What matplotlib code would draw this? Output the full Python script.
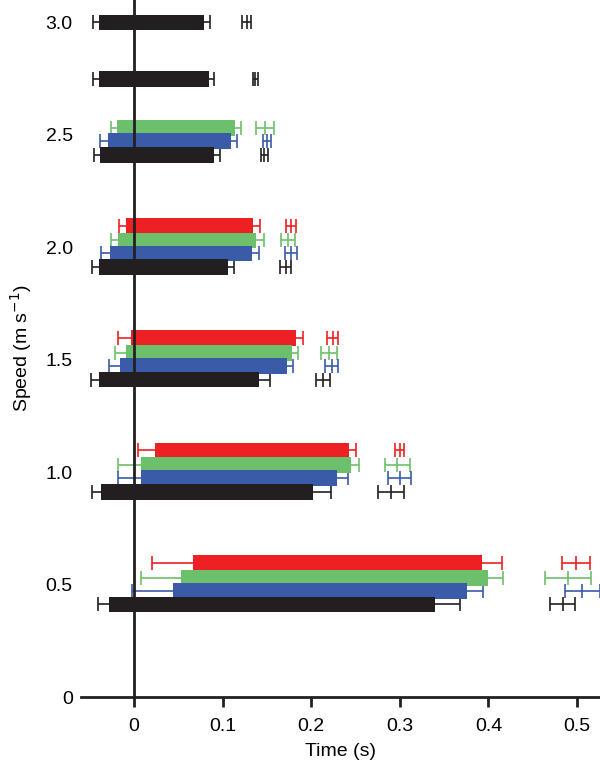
import matplotlib.pyplot as plt

plt.rcParams['font.family'] = ['Liberation Sans', 'DejaVu Sans']

speeds = [0.5, 1.0, 1.5, 2.0, 2.5, 2.75, 3.0]
series = ['red', 'green', 'blue', 'black']
colors = {'red': '#ED2024', 'green': '#6DC06B', 'blue': '#3A5BA8', 'black': '#231F20'}
offsets = {'red': 0.097, 'green': 0.031, 'blue': -0.027, 'black': -0.088}

# per series: speed -> (start, start_err, end, end_err, period, period_err)
data = {
    'red': {
        0.5: (0.066, 0.046, 0.393, 0.022, 0.499, 0.016),
        1.0: (0.023, 0.019, 0.243, 0.008, 0.300, 0.005),
        1.5: (-0.003, 0.015, 0.183, 0.008, 0.224, 0.006),
        2.0: (-0.009, 0.008, 0.134, 0.008, 0.177, 0.006),
    },
    'green': {
        0.5: (0.053, 0.045, 0.400, 0.016, 0.490, 0.026),
        1.0: (0.008, 0.026, 0.245, 0.009, 0.297, 0.014),
        1.5: (-0.009, 0.013, 0.178, 0.007, 0.220, 0.009),
        2.0: (-0.018, 0.008, 0.138, 0.009, 0.174, 0.008),
        2.5: (-0.019, 0.007, 0.114, 0.007, 0.148, 0.010),
    },
    'blue': {
        0.5: (0.044, 0.046, 0.376, 0.018, 0.506, 0.020),
        1.0: (0.008, 0.026, 0.229, 0.012, 0.300, 0.013),
        1.5: (-0.016, 0.012, 0.173, 0.006, 0.223, 0.007),
        2.0: (-0.027, 0.010, 0.133, 0.008, 0.177, 0.007),
        2.5: (-0.030, 0.008, 0.109, 0.007, 0.150, 0.005),
    },
    'black': {
        0.5: (-0.028, 0.013, 0.340, 0.028, 0.484, 0.014),
        1.0: (-0.037, 0.011, 0.202, 0.020, 0.290, 0.015),
        1.5: (-0.040, 0.009, 0.141, 0.012, 0.213, 0.008),
        2.0: (-0.040, 0.008, 0.106, 0.007, 0.171, 0.006),
        2.5: (-0.038, 0.007, 0.090, 0.007, 0.147, 0.004),
        2.75: (-0.040, 0.006, 0.084, 0.006, 0.137, 0.003),
        3.0: (-0.040, 0.006, 0.079, 0.007, 0.127, 0.005),
    },
}

fig = plt.figure(figsize=(6, 7.72), dpi=100)
ax = fig.add_axes([0.135, 0.097, 0.865, 0.903])

for s in series:
    c = colors[s]
    for sp, (st, se, en, ee, pe, pee) in data[s].items():
        y = sp + (0 if sp > 2.6 else offsets[s])
        ax.barh(y, en - st, left=st, height=0.07, color=c, zorder=3)
        ekw = dict(color=c, elinewidth=1.2, capsize=5, capthick=1.2, zorder=2)
        ax.errorbar(st, y, xerr=se, fmt='none', **ekw)
        ax.errorbar(en, y, xerr=ee, fmt='none', **ekw)
        ax.errorbar(pe, y, xerr=pee, fmt='|', ms=10, mew=1.2, **ekw)

ax.axvline(0, color='#231F20', lw=2, zorder=4)
ax.set_xlim(-0.06, 0.526)
ax.set_ylim(0, 3.1)
for side in ['left', 'right', 'top']:
    ax.spines[side].set_visible(False)
ax.spines['bottom'].set_linewidth(2)
ax.spines['bottom'].set_color('#231F20')
ax.set_xticks([0, 0.1, 0.2, 0.3, 0.4, 0.5])
ax.set_xticklabels(['0', '0.1', '0.2', '0.3', '0.4', '0.5'])
ax.set_yticks([0, 0.5, 1.0, 1.5, 2.0, 2.5, 3.0])
ax.set_yticklabels(['0', '0.5', '1.0', '1.5', '2.0', '2.5', '3.0'])
ax.tick_params(axis='x', length=7, width=2, labelsize=14, pad=8, color='#231F20')
ax.tick_params(axis='y', length=0, labelsize=14, pad=6)
ax.set_xlabel('Time (s)', fontsize=14, labelpad=6)
ax.set_ylabel('Speed (m s$^{-1}$)', fontsize=14, labelpad=8)

fig.savefig('out.png')
